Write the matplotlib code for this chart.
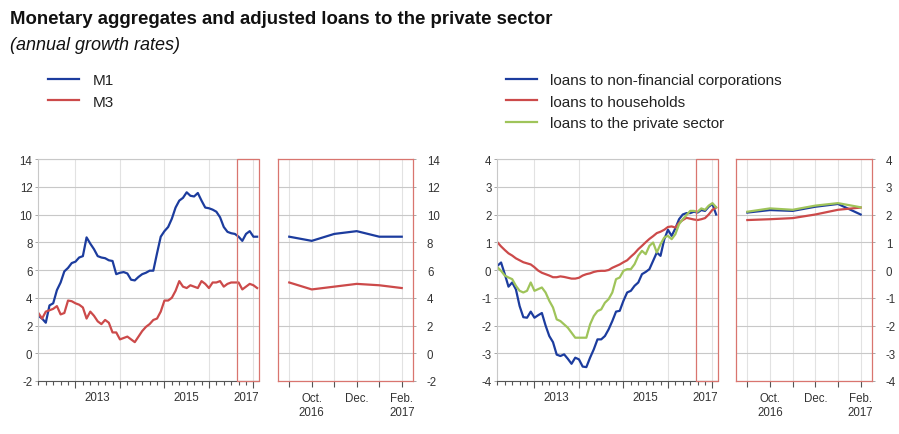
import numpy as np
import pandas as pd
import matplotlib
matplotlib.use('Agg')
import matplotlib.pyplot as plt
from matplotlib.patches import Rectangle

# monthly observations, March 2012 - February 2017
months = pd.period_range('2012-03', '2017-02', freq='M')

m1 = [2.7, 2.5, 2.2, 3.45, 3.6, 4.55, 5.1, 5.9, 6.15, 6.5,
      6.6, 6.9, 7.0, 8.35, 7.9, 7.5, 7.0, 6.9, 6.85, 6.7,
      6.65, 5.7, 5.8, 5.85, 5.75, 5.3, 5.25, 5.5, 5.7, 5.8,
      5.95, 5.95, 7.2, 8.4, 8.8, 9.1, 9.7, 10.5, 11.0, 11.2,
      11.6, 11.35, 11.3, 11.55, 11.0, 10.5, 10.45, 10.35, 10.2, 9.8,
      9.1, 8.75, 8.65, 8.6, 8.4, 8.1, 8.6, 8.8, 8.4, 8.4]
m3 = [2.9, 2.5, 3.0, 3.1, 3.2, 3.4, 2.8, 2.9, 3.8, 3.75,
      3.6, 3.5, 3.3, 2.5, 3.0, 2.7, 2.3, 2.1, 2.4, 2.2,
      1.5, 1.5, 1.0, 1.1, 1.2, 1.0, 0.8, 1.2, 1.6, 1.9,
      2.1, 2.4, 2.5, 3.0, 3.8, 3.8, 4.0, 4.5, 5.2, 4.8,
      4.7, 4.9, 4.8, 4.7, 5.2, 5.0, 4.7, 5.1, 5.1, 5.2,
      4.8, 5.0, 5.1, 5.1, 5.1, 4.6, 4.8, 5.0, 4.9, 4.7]

nfc = [0.15, 0.27, -0.15, -0.6, -0.45, -0.7, -1.3, -1.7, -1.72, -1.5,
       -1.72, -1.63, -1.55, -2.0, -2.38, -2.6, -3.05, -3.1, -3.04, -3.2,
       -3.38, -3.16, -3.22, -3.48, -3.5, -3.16, -2.86, -2.5, -2.5, -2.38,
       -2.14, -1.84, -1.5, -1.47, -1.11, -0.81, -0.75, -0.57, -0.45, -0.15,
       -0.07, 0.03, 0.33, 0.63, 0.51, 1.1, 1.45, 1.23, 1.5, 1.83,
       2.0, 2.05, 2.05, 2.1, 2.07, 2.16, 2.13, 2.28, 2.38, 2.0]
households = [1.0, 0.85, 0.72, 0.6, 0.52, 0.42, 0.35, 0.28, 0.24, 0.2,
              0.1, -0.02, -0.1, -0.15, -0.2, -0.26, -0.26, -0.23, -0.25, -0.28,
              -0.31, -0.31, -0.28, -0.2, -0.15, -0.12, -0.07, -0.04, -0.03, -0.03,
              0.0, 0.08, 0.14, 0.2, 0.28, 0.35, 0.48, 0.6, 0.75, 0.87,
              1.0, 1.12, 1.22, 1.33, 1.38, 1.45, 1.55, 1.57, 1.53, 1.7,
              1.8, 1.88, 1.85, 1.82, 1.8, 1.83, 1.87, 2.0, 2.17, 2.25]
private = [0.1, -0.03, -0.2, -0.27, -0.33, -0.57, -0.75, -0.81, -0.75, -0.45,
           -0.75, -0.69, -0.63, -0.81, -1.11, -1.35, -1.78, -1.84, -1.96, -2.08,
           -2.26, -2.44, -2.44, -2.44, -2.44, -1.96, -1.66, -1.48, -1.42, -1.18,
           -1.05, -0.81, -0.33, -0.27, -0.03, 0.03, 0.03, 0.21, 0.51, 0.69,
           0.57, 0.87, 0.99, 0.63, 0.93, 1.17, 1.23, 1.11, 1.29, 1.65,
           1.83, 1.98, 2.13, 2.13, 2.1, 2.22, 2.17, 2.32, 2.41, 2.26]

year_labels = ['2013', '2015', '2017']
zoom_labels = ['', 'Oct.\n2016', '', 'Dec.', '', 'Feb.\n2017']

BLUE = '#1c3c9e'
RED = '#cc4a4a'
GREEN = '#9fc45a'
FRAME_RED = '#d9756f'
GRID = '#c8c8c8'
VGRID = '#e2e2e2'
TXT = '#333333'

plt.rcParams['font.family'] = ['Liberation Sans', 'DejaVu Sans']
plt.rcParams['axes.unicode_minus'] = False

x = np.arange(len(months))
z0 = list(months).index(pd.Period('2016-09', 'M'))
xz = x[z0:]

fig = plt.figure(figsize=(8.99, 4.35), dpi=100)

def main_axes(rect, ylim, yticks):
    ax = fig.add_axes(rect)
    ax.set_xlim(-0.1, len(months) - 0.5)
    ax.set_ylim(*ylim)
    ax.set_yticks(yticks)
    jan = [i for i, p in enumerate(months) if p.month == 1]
    odd = [i for i, p in enumerate(months) if p.month in (3, 5, 7, 9, 11)]
    ax.set_xticks(jan)
    ax.set_xticks(odd, minor=True)
    ax.set_xticklabels([])
    ax.tick_params(axis='x', which='major', length=5, width=0.8, color='#555555')
    ax.tick_params(axis='x', which='minor', length=3, width=0.8, color='#555555')
    ax.tick_params(axis='y', length=2, width=0.6, color='#999999', pad=2,
                   labelsize=8.3, labelcolor=TXT)
    ax.grid(axis='y', color=GRID, lw=0.8)
    ax.grid(axis='x', which='major', color=VGRID, lw=0.8)
    ax.set_axisbelow(True)
    for s in ['top', 'left']:
        ax.spines[s].set_color(GRID)
        ax.spines[s].set_linewidth(0.8)
    ax.spines['right'].set_visible(False)
    ax.spines['bottom'].set_color('#555555')
    ax.spines['bottom'].set_linewidth(0.8)
    ax.add_patch(Rectangle((z0 - 0.5, 0), len(months) - z0, 1,
                           transform=ax.get_xaxis_transform(), fill=False,
                           ec=FRAME_RED, lw=0.9, clip_on=False, zorder=5))
    # year labels centred on mid-year, last one flush with the right edge
    for lab in year_labels:
        jul = [i for i, p in enumerate(months) if p.year == int(lab) and p.month == 7]
        if jul:
            ax.text(jul[0], -0.072, lab, transform=ax.get_xaxis_transform(),
                    ha='center', va='center', fontsize=8.3, color=TXT)
        else:
            ax.text(len(months) - 0.5, -0.072, lab, transform=ax.get_xaxis_transform(),
                    ha='right', va='center', fontsize=8.3, color=TXT)
    return ax

def zoom_axes(rect, ylim, yticks):
    ax = fig.add_axes(rect)
    ax.set_xlim(z0 - 0.5, len(months) - 0.5)
    ax.set_ylim(*ylim)
    ax.set_yticks(yticks)
    ax.set_xticks(xz)
    ax.set_xticklabels(zoom_labels, fontsize=8.3, color=TXT, linespacing=1.25)
    ax.yaxis.tick_right()
    ax.tick_params(axis='x', length=4, width=0.8, color='#555555', pad=4)
    ax.tick_params(axis='y', length=2, width=0.6, color='#999999', pad=8,
                   labelsize=8.3, labelcolor=TXT)
    ax.grid(axis='y', color=GRID, lw=0.8)
    ax.grid(axis='x', color=VGRID, lw=0.8)
    ax.set_axisbelow(True)
    for s in ax.spines.values():
        s.set_color(FRAME_RED)
        s.set_linewidth(0.9)
    return ax

W, H = 899, 435
def rect(x0, x1, y0=160, y1=382):
    return [x0 / W, 1 - y1 / H, (x1 - x0) / W, (y1 - y0) / H]

lw = 1.6
# left: monetary aggregates
ax1 = main_axes(rect(38, 259), (-2, 14), np.arange(-2, 15, 2))
l_m1, = ax1.plot(x, m1, color=BLUE, lw=lw, label='M1')
l_m3, = ax1.plot(x, m3, color=RED, lw=lw, label='M3')
ax2 = zoom_axes(rect(278, 413), (-2, 14), np.arange(-2, 15, 2))
ax2.plot(xz, m1[z0:], color=BLUE, lw=lw)
ax2.plot(xz, m3[z0:], color=RED, lw=lw)

# right: loans
ax3 = main_axes(rect(497, 718), (-4, 4), np.arange(-4, 5, 1))
l_n, = ax3.plot(x, nfc, color=BLUE, lw=lw, label='loans to non-financial corporations')
l_h, = ax3.plot(x, households, color=RED, lw=lw, label='loans to households')
l_p, = ax3.plot(x, private, color=GREEN, lw=lw, label='loans to the private sector')
ax4 = zoom_axes(rect(736, 872), (-4, 4), np.arange(-4, 5, 1))
ax4.plot(xz, nfc[z0:], color=BLUE, lw=lw)
ax4.plot(xz, households[z0:], color=RED, lw=lw)
ax4.plot(xz, private[z0:], color=GREEN, lw=lw)

fig.text(10 / W, 1 - 20 / H, 'Monetary aggregates and adjusted loans to the private sector',
         fontsize=13.4, weight='bold', color='#111111', va='center')
fig.text(10 / W, 1 - 45 / H, '(annual growth rates)', fontsize=13,
         style='italic', color='#111111', va='center')

leg_kw = dict(loc='upper left', frameon=False, borderpad=0, borderaxespad=0,
              handlelength=2.0, handletextpad=0.9, labelspacing=0.5,
              prop={'size': 11}, labelcolor='#222222')
fig.legend(handles=[l_m1, l_m3], bbox_to_anchor=(48 / W, 1 - 74 / H), **leg_kw)
fig.legend(handles=[l_n, l_h, l_p], bbox_to_anchor=(506 / W, 1 - 74 / H), **leg_kw)

fig.savefig('out.png', dpi=100)
